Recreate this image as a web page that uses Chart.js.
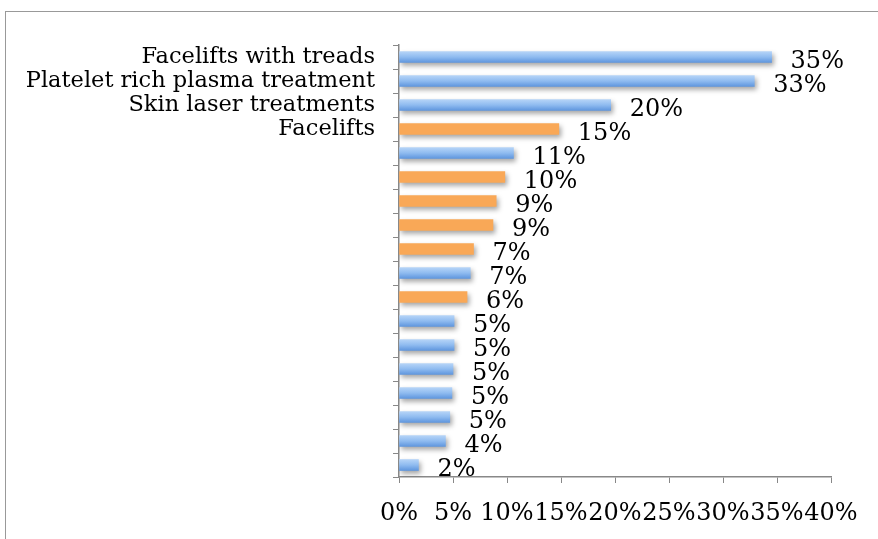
<!DOCTYPE html>
<html>
<head>
<meta charset="utf-8">
<script src="https://cdn.jsdelivr.net/npm/chart.js@4.4.1/dist/chart.umd.min.js"></script>
<style>
  html, body { margin: 0; padding: 0; background: #fff; }
  #wrap { position: relative; width: 878px; height: 539px; overflow: hidden; }
  #frame { position: absolute; left: 5px; top: 11px; width: 900px; height: 560px; border: 1px solid #999; box-sizing: border-box; }
  canvas { position: absolute; left: 0; top: 0; }
</style>
</head>
<body>
<div id="wrap">
  <div id="frame"></div>
  <canvas id="chart" width="878" height="539"></canvas>
</div>
<script>
// ---- data ----
const categories = [
  'Facelifts with treads', 'Platelet rich plasma treatment', 'Skin laser treatments', 'Facelifts',
  '', '', '', '', '', '', '', '', '', '', '', '', '', ''
];
const values = [34.5, 32.9, 19.6, 14.8, 10.6, 9.8, 9.0, 8.7, 6.9, 6.6, 6.3, 5.1, 5.1, 5.0, 4.9, 4.7, 4.3, 1.8];
const orangeBars = [3, 5, 6, 7, 8, 10];
const xTicks = [0, 5, 10, 15, 20, 25, 30, 35, 40];

const SERIF = '"DejaVu Serif", serif';

// blue bars get a soft vertical gradient like the original
function barColor(context) {
  const i = context.dataIndex;
  if (orangeBars.includes(i)) return '#f9a857';
  const chart = context.chart;
  const y = chart.scales.y;
  if (!y || y.top === undefined) return '#8ab6ee';
  const c = y.getPixelForValue(i);
  const g = chart.ctx.createLinearGradient(0, c - 6, 0, c + 6);
  g.addColorStop(0, '#b9d6f8');
  g.addColorStop(0.5, '#8fbbf0');
  g.addColorStop(1, '#5b93dc');
  return g;
}

// drop shadow under the bars
const barShadow = {
  id: 'barShadow',
  beforeDatasetDraw(chart) {
    const ctx = chart.ctx;
    ctx.save();
    ctx.shadowColor = 'rgba(0,0,0,0.35)';
    ctx.shadowBlur = 5;
    ctx.shadowOffsetX = 2;
    ctx.shadowOffsetY = 3;
  },
  afterDatasetDraw(chart) {
    chart.ctx.restore();
  }
};

// value labels to the right of each bar
const valueLabels = {
  id: 'valueLabels',
  afterDatasetsDraw(chart) {
    const ctx = chart.ctx;
    const meta = chart.getDatasetMeta(0);
    ctx.save();
    ctx.font = '24px ' + SERIF;
    ctx.fillStyle = '#000';
    ctx.textAlign = 'left';
    ctx.textBaseline = 'middle';
    meta.data.forEach((bar, i) => {
      ctx.fillText(Math.round(values[i]) + '%', bar.x + 19, bar.y + 5);
    });
    ctx.restore();
  }
};

const ctx = document.getElementById('chart').getContext('2d');
new Chart(ctx, {
  type: 'bar',
  data: {
    labels: categories,
    datasets: [{
      data: values,
      backgroundColor: barColor,
      borderWidth: 0,
      barThickness: 11
    }]
  },
  plugins: [barShadow, valueLabels],
  options: {
    indexAxis: 'y',
    responsive: false,
    animation: false,
    layout: { padding: { top: 45, right: 47, bottom: 0, left: 0 } },
    plugins: {
      legend: { display: false },
      tooltip: { enabled: false }
    },
    scales: {
      x: {
        min: 0,
        max: 40,
        afterBuildTicks: (scale) => { scale.ticks = xTicks.map(v => ({ value: v })); },
        afterFit: (scale) => { scale.height = 62; },
        grid: { drawOnChartArea: false, tickLength: 6, color: '#888' },
        border: { color: '#888', width: 1.5 },
        ticks: {
          padding: 16,
          maxRotation: 0,
          autoSkip: false,
          color: '#000',
          font: { family: SERIF, size: 24 },
          callback: (v) => v + '%'
        }
      },
      y: {
        afterFit: (scale) => { scale.width = 399; },
        grid: { drawOnChartArea: false, offset: true, tickLength: 6, color: '#888' },
        border: { color: '#888', width: 1.5 },
        ticks: {
          padding: 18,
          autoSkip: false,
          color: '#000',
          font: { family: SERIF, size: 22.5 }
        }
      }
    }
  }
});
</script>
</body>
</html>
